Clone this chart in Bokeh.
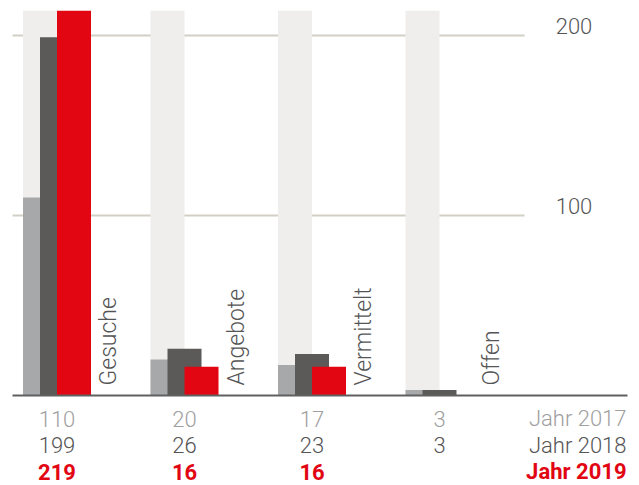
import numpy as np
from bokeh.plotting import figure
from bokeh.models import Range1d
from bokeh.core.properties import value
from bokeh.embed import file_html
from bokeh.resources import INLINE

# ---- data ----
categories = ["Gesuche", "Angebote", "Vermittelt", "Offen"]
years = ["Jahr 2017", "Jahr 2018", "Jahr 2019"]
values_2017 = [110, 20, 17, 3]
values_2018 = [199, 26, 23, 3]
values_2019 = [219, 16, 16, 0]
labels_2017 = ["110", "20", "17", "3"]
labels_2018 = ["199", "26", "23", "3"]
labels_2019 = ["219", "16", "16", ""]
grid_ticks = [100, 200]

# ---- styling / layout ----
W, H = 639, 485
PX_GROUP = 127.5           # px per group
PX_UNIT = 1.8              # px per value unit
FONT = value("Roboto Light")
FONT_BOLD = value("Roboto")

c_bg = "#efeeec"
c_2017 = "#a7a8aa"
c_2018 = "#5b5a59"
c_2019 = "#e20613"
c_grid = "#d2d0c6"
c_axis = "#606060"
c_text = "#555555"
c_text17 = "#a0a0a0"

top_border = 10
BASE = 395
base_from_top = BASE - top_border
y_end = base_from_top / PX_UNIT
y_start = -(H - BASE) / PX_UNIT
X0 = 39.5
x_start = -X0 / PX_GROUP
x_end = x_start + W / PX_GROUP

def px(xref):
    return (xref - X0) / PX_GROUP

p = figure(width=W, height=H, output_backend="svg", toolbar_location=None,
           x_range=Range1d(x_start, x_end), y_range=Range1d(y_start, y_end),
           min_border_left=0, min_border_right=0, min_border_top=top_border,
           min_border_bottom=0)
p.axis.visible = False
p.xgrid.visible = False
p.ygrid.visible = False
p.outline_line_color = None
p.background_fill_color = "white"
p.border_fill_color = "white"

xs = np.arange(len(categories), dtype=float)
bw = 34 / PX_GROUP
off = 17 / PX_GROUP

# gridlines
p.segment(x0=[px(12)] * len(grid_ticks), x1=[px(524)] * len(grid_ticks),
          y0=grid_ticks, y1=grid_ticks, line_color=c_grid, line_width=2)

# background tracks
p.vbar(x=xs, top=y_end, bottom=0, width=bw, fill_color=c_bg, line_color=None)

# bars
p.vbar(x=xs, top=values_2017, bottom=0, width=bw, fill_color=c_2017, line_color=None)
p.vbar(x=xs + off, top=values_2018, bottom=0, width=bw, fill_color=c_2018, line_color=None)
p.vbar(x=xs + 2 * off, top=values_2019, bottom=0, width=bw, fill_color=c_2019, line_color=None)

# baseline
p.segment(x0=[px(12)], x1=[px(627)], y0=[0], y1=[0], line_color=c_axis, line_width=2)

# grid tick labels on the right
p.text(x=[px(573.5)] * len(grid_ticks), y=grid_ticks, text=[str(t) for t in grid_ticks],
       text_font=FONT, text_font_size="22px", text_color=c_text,
       text_align="center", text_baseline="middle", y_offset=-10)

# rotated category labels
p.text(x=xs + 68.5 / PX_GROUP, y=[0] * len(categories), text=categories,
       angle=np.pi / 2, text_font=FONT, text_font_size="23px", text_color=c_text,
       text_align="left", text_baseline="alphabetic", y_offset=-10)

# value table
num_x = xs + off
rows = [(labels_2017, c_text17, "normal", FONT, 23),
        (labels_2018, c_text, "normal", FONT, 49.5),
        (labels_2019, c_2019, "bold", FONT_BOLD, 76)]
for (labs, col, style, fnt, yo), yr in zip(rows, years):
    p.text(x=num_x, y=[0] * len(labs), text=labs, text_font=fnt,
           text_font_size="22px", text_font_style=style, text_color=col,
           text_align="center", text_baseline="alphabetic", y_offset=yo)
    p.text(x=[px(626)], y=[0], text=[yr], text_font=fnt, text_font_size="22px",
           text_font_style=style, text_color=col, text_align="right",
           text_baseline="alphabetic", y_offset=yo)

open("out.html", "w").write(file_html(p, INLINE))
